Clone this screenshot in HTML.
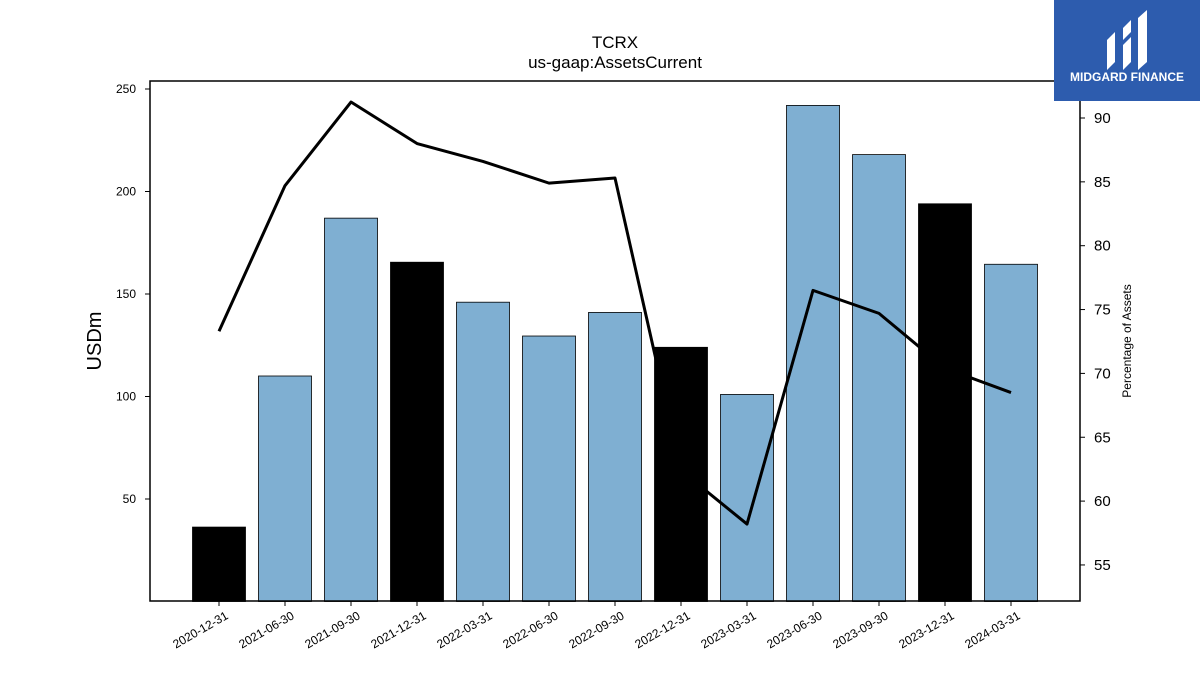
<!DOCTYPE html>
<html><head><meta charset="utf-8"><style>
body{margin:0;background:#fff;width:1200px;height:675px;overflow:hidden;font-family:"Liberation Sans","DejaVu Sans",sans-serif}
</style></head><body>
<svg id="chart" width="1200" height="675" xmlns="http://www.w3.org/2000/svg" font-family="Liberation Sans, DejaVu Sans, sans-serif">
<text x="615" y="48" text-anchor="middle" font-size="17">TCRX</text>
<text x="615" y="68" text-anchor="middle" font-size="17">us-gaap:AssetsCurrent</text>
<text transform="translate(101,341) rotate(-90)" text-anchor="middle" font-size="20">USDm</text>
<text transform="translate(1131,341) rotate(-90)" text-anchor="middle" font-size="12">Percentage of Assets</text>
<g id="bars"></g><g id="line"></g><g id="axes"></g>
<rect x="150" y="81" width="930" height="520" fill="none" stroke="#000" stroke-width="1.5"/>
<g>
<rect x="1054" y="0" width="146" height="101" fill="#2d5cae"/>
<path d="M1107 40 l8 -8 v30 l-8 8 z M1123 28 l8 -8 v12 l-8 8 z M1123 45 l8 -8 v25 l-8 8 z M1138 18 l9 -8 v52 l-9 8 z" fill="#fff"/>
<text x="1127" y="81" text-anchor="middle" font-size="12" font-weight="bold" fill="#fff">MIDGARD FINANCE</text>
</g>
</svg>
<script>
const categories=["2020-12-31","2021-06-30","2021-09-30","2021-12-31","2022-03-31","2022-06-30","2022-09-30","2022-12-31","2023-03-31","2023-06-30","2023-09-30","2023-12-31","2024-03-31"];
const barValues=[36.3,110,187,165.5,146,129.5,141,124,101,242,218,194,164.5];
const pctValues=[73.3,84.7,91.25,88.0,86.6,84.9,85.3,62.4,58.2,76.5,74.7,70.4,68.5];
const yearEnd=[true,false,false,true,false,false,false,true,false,false,false,true,false];
const leftTicks=[50,100,150,200,250];
const rightTicks=[55,60,65,70,75,80,85,90];
const NS="http://www.w3.org/2000/svg";
const xPos=i=>219+i*66;
const yL=v=>601.5-v*2.05;
const yR=v=>118+(90-v)*12.77;
function mk(tag,attrs,parent){const e=document.createElementNS(NS,tag);for(const k in attrs)e.setAttribute(k,attrs[k]);parent.appendChild(e);return e;}
const bars=document.getElementById('bars'),line=document.getElementById('line'),axes=document.getElementById('axes');
barValues.forEach((v,i)=>{
  const r=mk('rect',{x:xPos(i)-26.5,y:yL(v),width:53,height:yL(0)-yL(v),fill:yearEnd[i]?'#000':'#7fafd2',stroke:'#000','stroke-width':0.8},bars);
  
  
  const t=mk('line',{x1:xPos(i),x2:xPos(i),y1:601,y2:606,stroke:'#000'},axes);
  
  
  const l=mk('text',{x:xPos(i)+10,y:618,'font-size':12,'text-anchor':'end',transform:`rotate(-30 ${xPos(i)+10} 618)`},axes);
  l.textContent=categories[i];
  
  
});
const p=mk('polyline',{points:pctValues.map((v,i)=>xPos(i)+','+yR(v)).join(' '),fill:'none',stroke:'#000','stroke-width':3,'stroke-linejoin':'round'},line);


leftTicks.forEach(v=>{
  const t=mk('line',{x1:145,x2:150,y1:yL(v),y2:yL(v),stroke:'#000'},axes);
  
  
  const l=mk('text',{x:136,y:yL(v)+4,'font-size':12,'text-anchor':'end'},axes);
  l.textContent=v;
  
  
});
rightTicks.forEach(v=>{
  const t=mk('line',{x1:1080,x2:1085,y1:yR(v),y2:yR(v),stroke:'#000'},axes);
  
  
  const l=mk('text',{x:1094,y:yR(v)+5,'font-size':15},axes);
  l.textContent=v;
  
  
});
</script>
</body></html>
